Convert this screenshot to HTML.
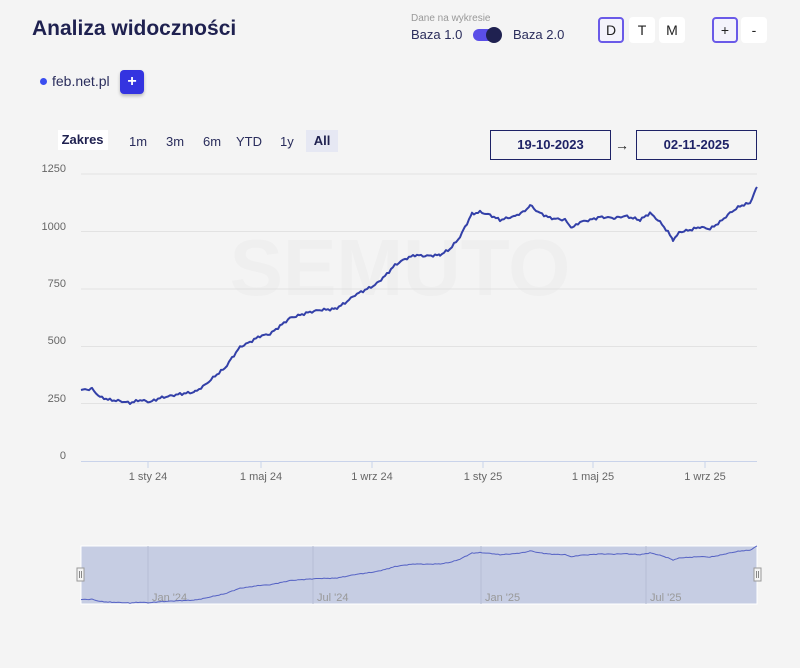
<!DOCTYPE html>
<html><head><meta charset="utf-8"><style>
body{margin:0;width:800px;height:668px;background:#f4f4f4;font-family:"Liberation Sans",sans-serif;position:relative;overflow:hidden}
.a{position:absolute}
.btn{position:absolute;width:26px;height:26px;background:#fff;border-radius:4px;font-size:14px;color:#222;text-align:center;line-height:26px;box-sizing:border-box}
.sel{border:2px solid #6a5ae8;background:#f4f3fb;line-height:22px}
.r{position:absolute;top:134px;font-size:13px;color:#2a2d5c}
.db{position:absolute;top:130px;height:30px;border:1.5px solid #1e2266;box-sizing:border-box;font-weight:bold;font-size:13px;color:#1e2266;text-align:center;line-height:27px}
</style></head><body>
<div class="a" style="left:32px;top:17px;font-size:21px;font-weight:bold;color:#1f2150">Analiza widoczności</div>
<div class="a" style="left:411px;top:13px;font-size:10px;color:#999">Dane na wykresie</div>
<div class="a" style="left:411px;top:27px;font-size:13px;color:#2a2d5c">Baza 1.0</div>
<div class="a" style="left:473px;top:29px;width:28px;height:12px;border-radius:6px;background:#5a4ee8"></div>
<div class="a" style="left:486px;top:27px;width:16px;height:16px;border-radius:8px;background:#1f2150"></div>
<div class="a" style="left:513px;top:27px;font-size:13px;color:#2a2d5c">Baza 2.0</div>
<div class="btn sel" style="left:598px;top:17px">D</div>
<div class="btn" style="left:629px;top:17px">T</div>
<div class="btn" style="left:659px;top:17px">M</div>
<div class="btn sel" style="left:712px;top:17px">+</div>
<div class="btn" style="left:741px;top:17px">-</div>
<div class="a" style="left:40px;top:78px;width:7px;height:7px;border-radius:4px;background:#3a4ef0"></div>
<div class="a" style="left:52px;top:73px;font-size:14px;color:#2a2d5c">feb.net.pl</div>
<div class="a" style="left:120px;top:70px;width:24px;height:24px;border-radius:4px;background:#3434e0;color:#fff;font-weight:bold;text-align:center;line-height:23px;box-shadow:0 2px 3px rgba(0,0,0,.25)">+</div>
<div class="a" style="left:58px;top:130px;width:50px;height:20px;background:#fff;font-size:13px;font-weight:bold;color:#1f2150;line-height:19px">&nbsp;Zakres</div>
<div class="r" style="left:129px">1m</div><div class="r" style="left:166px">3m</div><div class="r" style="left:203px">6m</div><div class="r" style="left:236px">YTD</div><div class="r" style="left:280px">1y</div>
<div class="a" style="left:306px;top:130px;width:32px;height:22px;background:#e6e8f3;font-size:13px;font-weight:bold;color:#1f2150;text-align:center;line-height:22px">All</div>
<div class="db" style="left:490px;width:121px">19-10-2023</div>
<div class="a" style="left:615px;top:137px;font-size:14px;color:#222">→</div>
<div class="db" style="left:636px;width:121px">02-11-2025</div>
<svg class="a" style="left:0;top:0" width="800" height="668" font-family="Liberation Sans,sans-serif">
<text x="400" y="295" font-size="80" font-weight="bold" fill="#efefef" text-anchor="middle">SEMUTO</text>
<g stroke="#e2e2e2" stroke-width="1">
<line x1="81" x2="757" y1="174" y2="174"/><line x1="81" x2="757" y1="231.5" y2="231.5"/><line x1="81" x2="757" y1="289" y2="289"/><line x1="81" x2="757" y1="346.5" y2="346.5"/><line x1="81" x2="757" y1="403.5" y2="403.5"/></g>
<line x1="81" x2="757" y1="461.5" y2="461.5" stroke="#c9d3ea"/>
<g stroke="#c9d3ea"><line x1="148" x2="148" y1="461" y2="468"/><line x1="261" x2="261" y1="461" y2="468"/><line x1="372" x2="372" y1="461" y2="468"/><line x1="483" x2="483" y1="461" y2="468"/><line x1="593" x2="593" y1="461" y2="468"/><line x1="705" x2="705" y1="461" y2="468"/></g>
<g font-size="11" fill="#666" text-anchor="end"><text x="66" y="172">1250</text><text x="66" y="230">1000</text><text x="66" y="287">750</text><text x="66" y="344">500</text><text x="66" y="402">250</text><text x="66" y="459">0</text></g>
<g font-size="11" fill="#666" text-anchor="middle"><text x="148" y="480">1 sty 24</text><text x="261" y="480">1 maj 24</text><text x="372" y="480">1 wrz 24</text><text x="483" y="480">1 sty 25</text><text x="593" y="480">1 maj 25</text><text x="705" y="480">1 wrz 25</text></g>
<polyline id="main" fill="none" stroke="#3340a8" stroke-width="2" stroke-linejoin="round"/>
<rect x="81" y="546" width="676" height="58" fill="#c6cde3" stroke="#fff"/>
<g stroke="#b5bdd4"><line x1="148" x2="148" y1="546" y2="604"/><line x1="313" x2="313" y1="546" y2="604"/><line x1="481" x2="481" y1="546" y2="604"/><line x1="646" x2="646" y1="546" y2="604"/></g>
<g font-size="11" fill="#999"><text x="152" y="601">Jan '24</text><text x="317" y="601">Jul '24</text><text x="485" y="601">Jan '25</text><text x="650" y="601">Jul '25</text></g>
<polyline id="nav" fill="none" stroke="#5562c4" stroke-width="1"/>
<rect x="77" y="568" width="7" height="13" fill="#f4f4f4" stroke="#999"/><rect x="754" y="568" width="7" height="13" fill="#f4f4f4" stroke="#999"/>
<g stroke="#888"><line x1="79.5" x2="79.5" y1="571" y2="578"/><line x1="81.5" x2="81.5" y1="571" y2="578"/><line x1="756.5" x2="756.5" y1="571" y2="578"/><line x1="758.5" x2="758.5" y1="571" y2="578"/></g>
</svg>
<script>
var p=[81,390,92,389,100,397,110,400,120,401,130,403,140,400,150,402,160,398,170,396,180,394,195,392,205,385,215,376,225,368,232,358,240,347,250,342,260,336,270,334,280,326,290,318,300,315,310,312,320,310,335,309,345,303,355,295,365,290,375,285,385,276,395,265,405,259,415,255,425,256,440,255,450,249,460,237,465,227,472,214,480,212,490,215,500,220,515,216,525,211,530,205,538,212,550,218,565,220,572,228,580,222,590,220,600,217,615,218,625,216,640,220,650,213,660,222,668,232,673,240,680,232,690,230,700,227,710,229,720,222,730,213,740,206,750,203,757,187];
var m=[],n=[];
for(var i=0;i<p.length-2;i+=2){var x0=p[i],y0=p[i+1],x1=p[i+2],y1=p[i+3];for(var x=x0;x<x1;x+=2){var t=(x-x0)/(x1-x0),y=y0+(y1-y0)*t+(Math.sin(x*1.7)+Math.sin(x*0.73))*0.7;m.push(x+','+y.toFixed(1));n.push(x+','+(546+(y-187)/216*57).toFixed(1));}}
m.push('757,187');n.push('757,546');
document.getElementById('main').setAttribute('points',m.join(' '));
document.getElementById('nav').setAttribute('points',n.join(' '));
</script>
</body></html>
